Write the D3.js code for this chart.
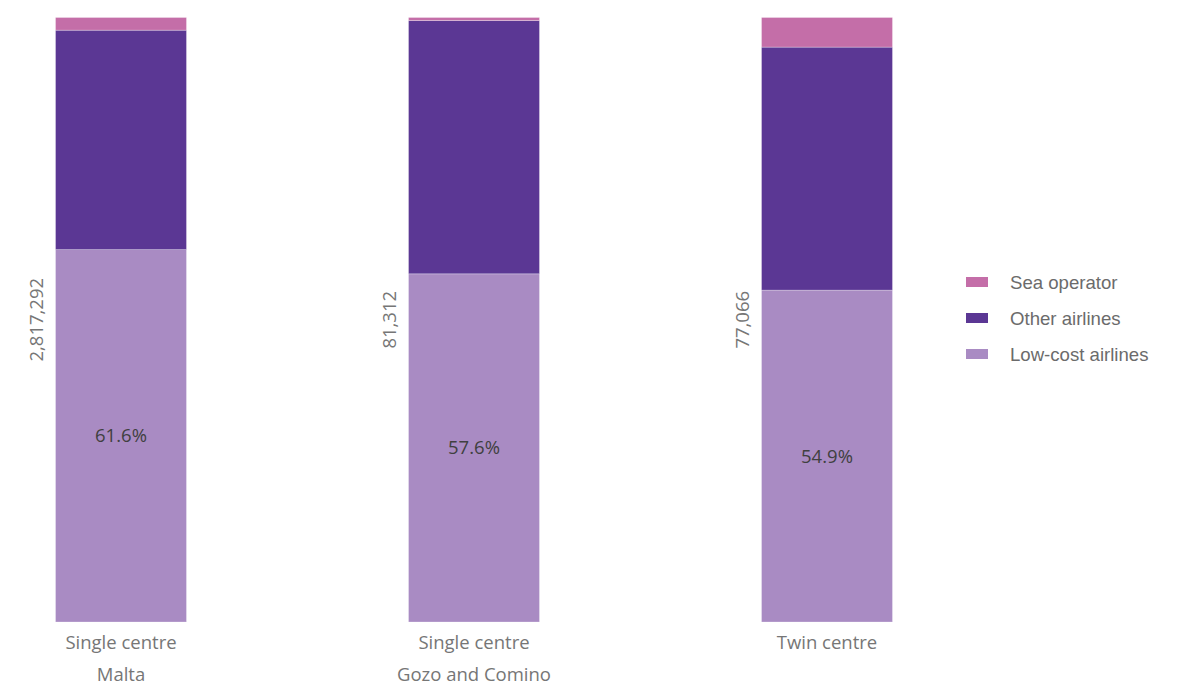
<!DOCTYPE html>
<html>
<head>
<style type="text/css">
  body { margin: 0; background: #fff; }
  svg { display: block; }
  .cat { font-family: "Open Sans", sans-serif; font-size: 18.5px; fill: #767676; text-anchor: middle; }
  .total { font-family: "Open Sans", sans-serif; font-size: 18.5px; fill: #767676; text-anchor: middle; }
  .pct { font-family: "Open Sans", sans-serif; font-size: 18.5px; fill: #404040; text-anchor: middle; }
  .legend text { font-family: "Liberation Sans", Arial, sans-serif; font-size: 18.6px; fill: #6b6b6b; }
</style>
<script src="https://d3js.org/d3.v7.min.js"></script>
</head>
<body>
<svg id="chart" width="1189" height="687"></svg>
<script type="text/javascript">
// categories (two-line labels)
const categories = ['Malta', 'Gozo', 'Twin'];
const labelLine1 = ['Single centre', 'Single centre', 'Twin centre'];
const labelLine2 = ['Malta', 'Gozo and Comino', ''];
const totals = ['2,817,292', '81,312', '77,066'];

// shares in percent, bottom to top
const lowCost = [61.6, 57.6, 54.9];
const otherAirlines = [36.3, 41.9, 40.2];
const seaOperator = [2.1, 0.5, 4.9];

const seriesNames = ['Low-cost airlines', 'Other airlines', 'Sea operator'];
const seriesColors = ['#a98bc3', '#5b3794', '#c46ea8'];

const rows = categories.map((c, i) => ({
  cat: c,
  'Low-cost airlines': lowCost[i],
  'Other airlines': otherAirlines[i],
  'Sea operator': seaOperator[i]
}));

const svg = d3.select('#chart');

const x = d3.scaleBand()
  .domain(categories)
  .range([-55.5, 1003.5])
  .paddingInner(0.629)
  .paddingOuter(0.3145);

const y = d3.scaleLinear()
  .domain([0, 100])
  .range([622, 17.5]);

const color = d3.scaleOrdinal().domain(seriesNames).range(seriesColors);

const stacked = d3.stack().keys(seriesNames)(rows);

svg.append('g')
  .selectAll('g')
  .data(stacked)
  .enter()
  .append('g')
  .attr('fill', d => color(d.key))
  .selectAll('rect')
  .data(d => d)
  .enter()
  .append('rect')
  .attr('x', d => x(d.data.cat))
  .attr('width', x.bandwidth())
  .attr('y', d => y(d[1]))
  .attr('height', d => y(d[0]) - y(d[1]))
  .attr('stroke', 'rgba(255,255,255,0.35)')
  .attr('stroke-width', 0.8);

// percentage label in middle of low-cost segment
svg.append('g')
  .selectAll('text')
  .data(stacked[0])
  .enter()
  .append('text')
  .attr('class', 'pct')
  .attr('x', d => x(d.data.cat) + x.bandwidth() / 2)
  .attr('y', d => (y(d[0]) + y(d[1])) / 2)
  .attr('dy', '0.35em')
  .text(d => d3.format('.1f')(d[1] - d[0]) + '%');

// rotated totals left of each bar
svg.append('g')
  .selectAll('text')
  .data(categories)
  .enter()
  .append('text')
  .attr('class', 'total')
  .attr('transform', d => 'translate(' + (x(d) - 19) + ',' + y(50) + ') rotate(-90)')
  .attr('dy', '0.35em')
  .text((d, i) => totals[i]);

// category labels
const cats = svg.append('g')
  .selectAll('text')
  .data(categories)
  .enter()
  .append('text')
  .attr('class', 'cat')
  .attr('x', d => x(d) + x.bandwidth() / 2)
  .attr('y', 649);
cats.append('tspan')
  .attr('x', d => x(d) + x.bandwidth() / 2)
  .text((d, i) => labelLine1[i]);
cats.append('tspan')
  .attr('x', d => x(d) + x.bandwidth() / 2)
  .attr('dy', 32)
  .text((d, i) => labelLine2[i]);

// legend, top series first
const legendItems = seriesNames.slice().reverse();
const legend = svg.append('g')
  .attr('class', 'legend')
  .selectAll('g')
  .data(legendItems)
  .enter()
  .append('g')
  .attr('transform', (d, i) => 'translate(966,' + (282 + i * 36) + ')');
legend.append('rect')
  .attr('x', 0)
  .attr('y', -5)
  .attr('width', 22)
  .attr('height', 10)
  .attr('fill', d => color(d));
legend.append('text')
  .attr('x', 44)
  .attr('dy', '0.35em')
  .text(d => d);
</script>
</body>
</html>
